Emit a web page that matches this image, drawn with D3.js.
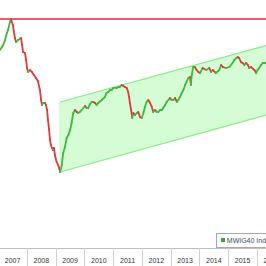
<!DOCTYPE html>
<html>
<head>
<meta charset="utf-8">
<script src="https://cdn.jsdelivr.net/npm/d3@7"></script>
<style>
  body { margin: 0; background: #fff; }
  svg { display: block; font-family: "Liberation Sans", Arial, sans-serif; }
</style>
</head>
<body>
<div class="chart"></div>
<script>
let w = 266;
let h = 266;
let axisY = 248;

// mWIG40 closes, roughly weekly-ish samples (decimal year, index value)
const years = [2007.06,2007.17,2007.24,2007.30,2007.34,2007.41,2007.44,2007.51,2007.58,2007.62,
  2007.69,2007.79,2007.83,2007.86,2007.93,2007.97,2008.00,2008.04,2008.10,2008.17,
  2008.24,2008.31,2008.38,2008.45,2008.49,2008.52,2008.56,2008.63,2008.66,2008.70,
  2008.73,2008.77,2008.80,2008.83,2008.87,2008.90,2008.94,2008.97,2009.03,2009.08,
  2009.12,2009.15,2009.21,2009.26,2009.32,2009.38,2009.44,2009.50,2009.55,2009.61,
  2009.67,2009.73,2009.78,2009.84,2009.90,2009.96,2010.02,2010.08,2010.13,2010.19,
  2010.25,2010.31,2010.37,2010.42,2010.48,2010.60,2010.71,2010.77,2010.83,2010.89,
  2010.95,2011.00,2011.12,2011.18,2011.23,2011.29,2011.35,2011.41,2011.47,2011.52,
  2011.55,2011.58,2011.62,2011.66,2011.70,2011.76,2011.82,2011.87,2011.93,2011.99,
  2012.05,2012.10,2012.16,2012.22,2012.28,2012.34,2012.39,2012.45,2012.51,2012.57,
  2012.63,2012.69,2012.74,2012.80,2012.86,2012.92,2012.97,2013.03,2013.09,2013.15,
  2013.21,2013.26,2013.32,2013.38,2013.44,2013.50,2013.55,2013.61,2013.67,2013.70,
  2013.73,2013.78,2013.84,2013.90,2013.96,2014.02,2014.11,2014.23,2014.34,2014.40,
  2014.46,2014.57,2014.69,2014.75,2014.81,2014.92,2015.04,2015.15,2015.21,2015.33,
  2015.38,2015.44,2015.50,2015.56,2015.62,2015.68,2015.73,2015.79,2015.91,2015.97,
  2016.02,2016.08,2016.14,2016.20,2016.31];
const closes = [4091,4205,4320,4480,4548,4731,4800,4663,4365,4274,
  4320,4365,4205,4045,4022,3862,3679,3588,3633,3588,
  3519,3450,3380,3176,2947,2833,2878,2878,2833,2718,
  2489,2261,2032,1918,1849,1803,1849,1689,1529,1460,
  1392,1300,1460,1735,1872,2078,2146,2261,2421,2650,
  2718,2673,2650,2673,2718,2764,2810,2760,2764,2850,
  2901,2901,2878,2833,2878,2947,3016,3107,3130,3176,
  3176,3222,3222,3244,3244,3290,3267,3244,3222,3130,
  3016,2878,2718,2535,2650,2604,2650,2673,2558,2535,
  2650,2787,2901,2947,2878,2787,2673,2718,2673,2673,
  2718,2718,2764,2833,2901,2947,2993,2947,2947,2993,
  2901,2947,3016,3107,3176,3290,3359,3450,3473,3290,
  3519,3702,3702,3633,3588,3565,3679,3633,3679,3588,
  3633,3565,3633,3748,3702,3679,3702,3793,3862,3931,
  3908,3816,3793,3748,3793,3748,3679,3702,3633,3565,
  3633,3679,3748,3793,3793];

const peakLevel = 4800;
const channelYears = [2009.15, 2016.31];
const channelLow = [1300, 2600];
const channelHigh = [2900, 4190];

const tickYears = [2007,2008,2009,2010,2011,2012,2013,2014,2015,2016];
const seriesName = "MWIG40 Index";

const data = years.map((y, i) => ({ year: y, close: closes[i], open: i > 0 ? closes[i - 1] : closes[i] }));

const svg = d3.select(".chart")
  .append("svg")
  .attr("width", w)
  .attr("height", h);

const xScale = d3.scaleLinear()
  .domain([2007.061, 2016.313])
  .range([0, w]);

const yScale = d3.scaleLinear()
  .domain([-440, 5235])
  .range([axisY, 0]);

// trend channel
const channel = channelYears.map((y, i) => ({ year: y, lo: channelLow[i], hi: channelHigh[i] }));

svg.append("path")
  .datum(channel)
  .attr("fill", "#d6fcd6")
  .attr("stroke", "none")
  .attr("d", d3.area().x(d => xScale(d.year)).y0(d => yScale(d.lo)).y1(d => yScale(d.hi)));

svg.append("line")
  .attr("x1", xScale(channelYears[0])).attr("x2", xScale(channelYears[0]))
  .attr("y1", yScale(channelLow[0])).attr("y2", yScale(channelHigh[0]))
  .attr("stroke", "#c4f5c4").attr("stroke-width", 1);

["lo", "hi"].forEach(k => {
  svg.append("path")
    .datum(channel)
    .attr("fill", "none")
    .attr("stroke", "#86ec86")
    .attr("stroke-width", 1.2)
    .attr("d", d3.line().x(d => xScale(d.year)).y(d => yScale(d[k])));
});

// peak level line
svg.append("line")
  .attr("x1", 0).attr("x2", w)
  .attr("y1", yScale(peakLevel)).attr("y2", yScale(peakLevel))
  .attr("stroke", "#e0283e")
  .attr("stroke-width", 1.6);

// price segments coloured by direction
svg.selectAll(".seg")
  .data(data.slice(1))
  .enter()
  .append("line")
  .attr("class", "seg")
  .attr("x1", (d, i) => xScale(data[i].year))
  .attr("y1", d => yScale(d.open))
  .attr("x2", d => xScale(d.year))
  .attr("y2", d => yScale(d.close))
  .attr("stroke", d => d.close >= d.open ? "#3dbb3d" : "#e23a3a")
  .attr("stroke-width", 1.8)
  .attr("stroke-linecap", "round");

// x axis band
const xAxis = svg.append("g").attr("id", "x-axis");
xAxis.append("line")
  .attr("x1", 0).attr("x2", w)
  .attr("y1", axisY + 0.5).attr("y2", axisY + 0.5)
  .attr("stroke", "#bdbdbd");

xAxis.selectAll(".sep")
  .data(tickYears.slice(1))
  .enter()
  .append("line")
  .attr("class", "sep")
  .attr("x1", d => Math.round(xScale(d)) + 0.5)
  .attr("x2", d => Math.round(xScale(d)) + 0.5)
  .attr("y1", axisY)
  .attr("y2", h)
  .attr("stroke", "#cfcfcf");

xAxis.selectAll(".lbl")
  .data(tickYears)
  .enter()
  .append("text")
  .attr("class", "lbl")
  .attr("x", d => xScale(d + 0.5))
  .attr("y", 262.5)
  .attr("text-anchor", "middle")
  .attr("font-size", "7px")
  .attr("fill", "#333")
  .text(d => d);

// legend
const legend = svg.append("g");
legend.append("rect")
  .attr("x", 216.5).attr("y", 233.5)
  .attr("width", 70).attr("height", 14)
  .attr("fill", "#fff")
  .attr("stroke", "#a8a8a8");
legend.append("rect")
  .attr("x", 221).attr("y", 238)
  .attr("width", 4).attr("height", 4)
  .attr("fill", "#22b422");
legend.append("text")
  .attr("x", 226.8).attr("y", 242.8)
  .attr("font-size", "7px")
  .attr("fill", "#3a4a66")
  .text(seriesName);
</script>
</body>
</html>
